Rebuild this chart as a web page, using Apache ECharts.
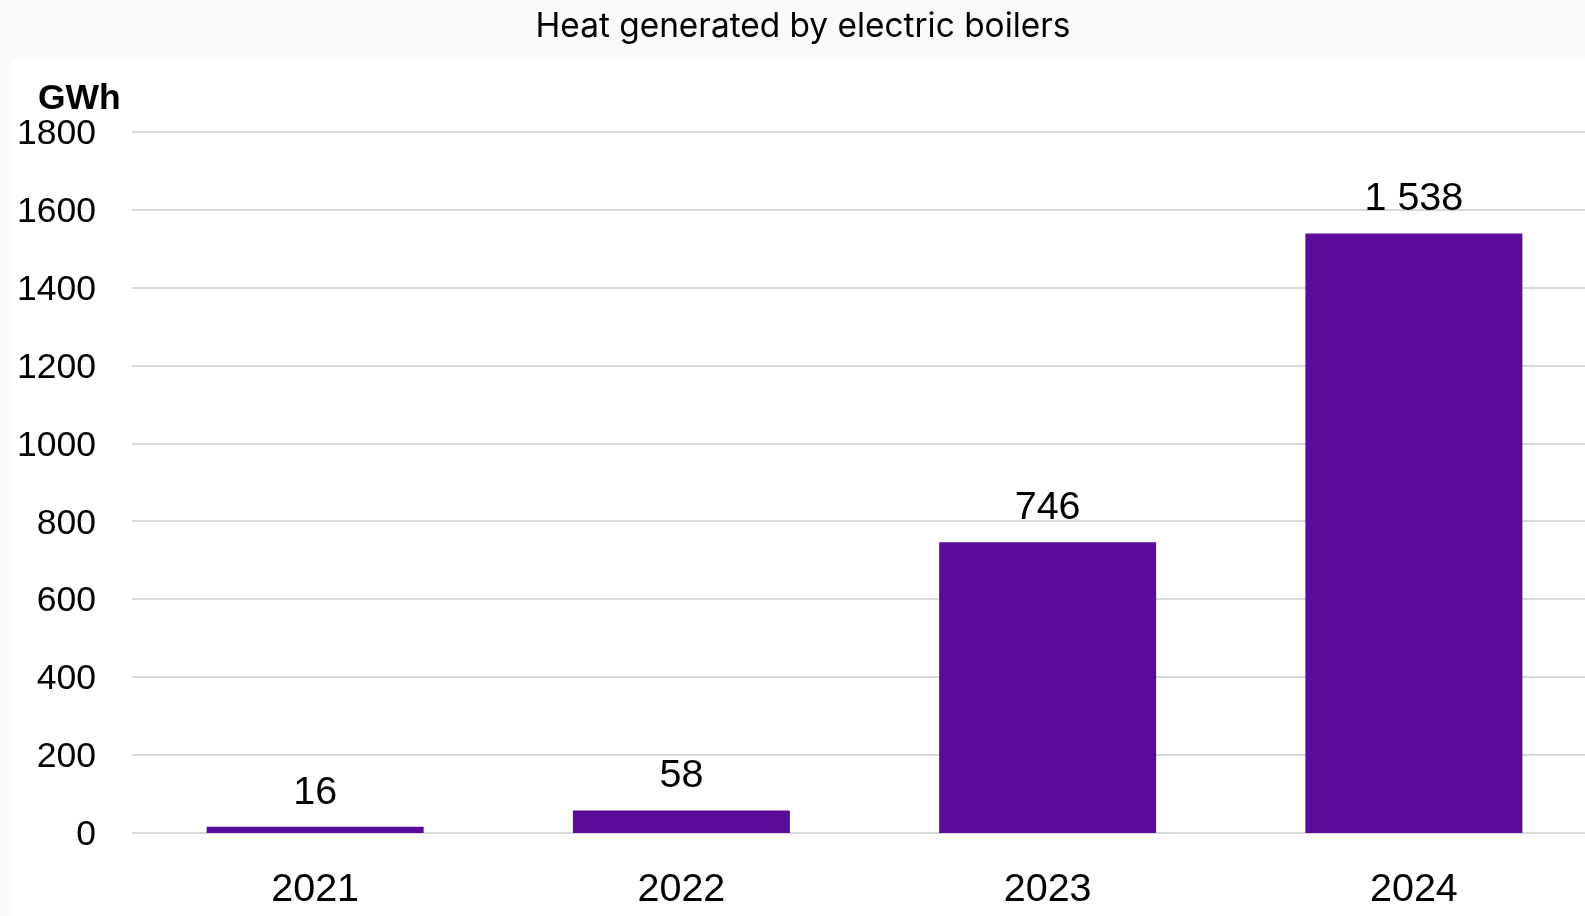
<!DOCTYPE html>
<html>
<head>
<meta charset="utf-8">
<style>
  html, body { margin: 0; padding: 0; background: #fafafa; }
  #chart { width: 1585px; height: 916px; }
</style>
<script src="https://cdn.jsdelivr.net/npm/echarts@6/dist/echarts.min.js"></script>
</head>
<body>
<div id="chart"></div>
<script>
// Heat generated by electric boilers, GWh per year
const years = ['2021', '2022', '2023', '2024'];
const heatGWh = [16, 58, 746, 1538];
const yTicks = [0, 200, 400, 600, 800, 1000, 1200, 1400, 1600, 1800];

const chart = echarts.init(document.getElementById('chart'), null, { renderer: 'canvas' });

// thousands separated by a space, e.g. 1 538
const fmtSpace = v => String(v).replace(/\B(?=(\d{3})+(?!\d))/g, ' ');

chart.setOption({
  backgroundColor: '#fafafa',
  animation: false,
  title: {
    text: 'Heat generated by electric boilers',
    left: 798,
    textAlign: 'center',
    top: 5,
    textStyle: { fontFamily: 'Inter', fontWeight: 'normal', fontSize: 33.4, color: '#000' }
  },
  graphic: [{
    type: 'rect',
    z: -10,
    shape: { x: 12, y: 60, width: 1585, height: 900 },
    style: { fill: '#ffffff' }
  }, {
    type: 'text',
    left: 38,
    top: 81,
    style: { text: 'GWh', fontFamily: 'Liberation Sans', fontWeight: 'bold', fontSize: 35.5, fill: '#000' }
  }],
  // the plot runs past the right edge of the canvas
  grid: { left: 132, right: -12, top: 131.5, bottom: 83, containLabel: false, outerBoundsMode: 'none' },
  xAxis: {
    type: 'category',
    data: years,
    axisLine: { show: false },
    axisTick: { show: false },
    axisLabel: { fontFamily: 'Liberation Sans', fontSize: 39.5, color: '#000', margin: 37 }
  },
  yAxis: {
    type: 'value',
    min: yTicks[0],
    max: yTicks[yTicks.length - 1],
    interval: 200,
    axisLine: { show: false },
    axisTick: { show: false },
    splitLine: { lineStyle: { color: '#d9d9d9', width: 2 } },
    axisLabel: {
      color: '#000', margin: 36,
      formatter: v => '{v|' + v + '}',
      rich: {
        // digits sit centred on their gridline
        v: { fontFamily: 'Liberation Sans', fontSize: 35.5, color: '#000', padding: [5, 0, 0, 0] }
      }
    }
  },
  series: [{
    type: 'bar',
    data: heatGWh,
    barWidth: 217,
    itemStyle: { color: '#5a0b9a' },
    label: {
      show: true,
      position: 'top',
      distance: 14,
      fontFamily: 'Liberation Sans',
      fontSize: 39.5,
      color: '#000',
      formatter: p => fmtSpace(p.value)
    }
  }]
});
</script>
</body>
</html>
